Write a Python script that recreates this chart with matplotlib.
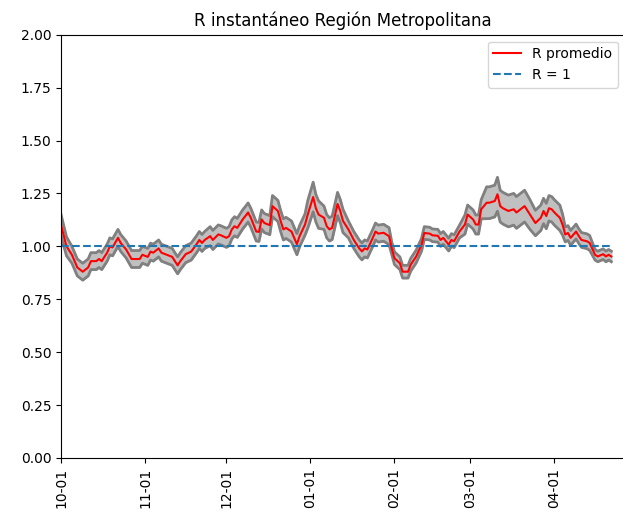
import numpy as np
import matplotlib
matplotlib.use("Agg")
import matplotlib.pyplot as plt
import matplotlib.dates as mdates

# dias desde 2020-10-01, R promedio y semi-ancho de la banda
dias = [0, 2, 4, 6, 8, 10, 11, 13, 14, 15, 17, 18, 19, 21, 22, 24, 26, 28, 29, 30, 32,
        33, 34, 36, 37, 39, 41, 43, 44, 46, 48, 50, 51, 52, 53, 55, 56, 58, 59, 61, 62, 63, 64, 65, 67, 68, 69,
        70, 72, 73, 74, 75, 77, 78, 80, 81, 82, 83, 85, 86, 87, 88, 90, 91, 93, 94, 95, 97, 98, 99, 100, 102, 103, 104,
        106, 108, 110, 111, 112, 113, 115, 116, 117, 119, 121, 122, 123, 125, 126, 128, 129, 131, 133, 134, 136, 137, 139,
        140, 141, 143, 144, 145, 147, 149, 150, 152, 153, 154, 155, 157, 158, 160, 161, 162, 163, 165, 167, 168, 170, 171, 173,
        175, 177, 178, 179, 180, 181, 182, 184, 185, 186, 187, 188, 190, 191, 192, 194, 195, 197, 198, 200, 201, 202, 203]

r_prom = [1.10, 1.00, 0.96, 0.90, 0.88, 0.90, 0.93, 0.93, 0.94, 0.93, 0.97, 1.00, 0.995, 1.04, 1.016, 0.985, 0.94, 0.94, 0.94, 0.96, 0.95,
          0.975, 0.97, 0.99, 0.97, 0.96, 0.95, 0.91, 0.93, 0.963, 0.975, 1.01, 1.03, 1.016, 1.03, 1.048, 1.03, 1.056, 1.052, 1.04, 1.048, 1.08, 1.095, 1.087, 1.127, 1.143, 1.16,
          1.135, 1.07, 1.068, 1.127, 1.11, 1.10, 1.19, 1.167, 1.12, 1.08, 1.087, 1.07, 1.04, 1.01, 1.048, 1.103, 1.15, 1.233, 1.18, 1.15, 1.135, 1.095, 1.08, 1.087, 1.20, 1.167, 1.12,
          1.08, 1.03, 0.99, 0.976, 0.99, 0.985, 1.04, 1.07, 1.06, 1.064, 1.048, 0.99, 0.944, 0.92, 0.88, 0.88, 0.913, 0.952, 1.008, 1.063, 1.06, 1.052, 1.05,
          1.03, 1.04, 1.008, 1.03, 1.024, 1.07, 1.103, 1.15, 1.127, 1.103, 1.103, 1.175, 1.206, 1.206, 1.214, 1.246, 1.19, 1.18, 1.167, 1.175, 1.16, 1.18, 1.19, 1.15,
          1.11, 1.135, 1.167, 1.143, 1.18, 1.175, 1.16, 1.135, 1.103, 1.056, 1.063, 1.04, 1.07, 1.048, 1.03, 1.024, 1.016, 0.96, 0.952, 0.963, 0.952, 0.96, 0.952]

ancho = [0.05, 0.045, 0.04, 0.04, 0.04, 0.04, 0.04, 0.04, 0.04, 0.04, 0.04, 0.04, 0.04, 0.04, 0.04, 0.04, 0.04, 0.04, 0.04, 0.04, 0.04,
         0.04, 0.04, 0.04, 0.04, 0.04, 0.04, 0.04, 0.04, 0.04, 0.04, 0.04, 0.04, 0.04, 0.04, 0.045, 0.045, 0.045, 0.045, 0.045, 0.045, 0.045, 0.045, 0.045, 0.045, 0.045, 0.045,
         0.045, 0.045, 0.045, 0.045, 0.045, 0.045, 0.05, 0.05, 0.05, 0.05, 0.05, 0.05, 0.05, 0.05, 0.05, 0.05, 0.065, 0.07, 0.065, 0.065, 0.055, 0.055, 0.055, 0.055, 0.055, 0.055, 0.055,
         0.04, 0.04, 0.04, 0.04, 0.04, 0.04, 0.04, 0.04, 0.04, 0.04, 0.04, 0.03, 0.03, 0.03, 0.03, 0.03, 0.03, 0.03, 0.03, 0.03, 0.03, 0.03, 0.03,
         0.03, 0.03, 0.03, 0.03, 0.03, 0.03, 0.045, 0.045, 0.045, 0.045, 0.045, 0.045, 0.075, 0.075, 0.075, 0.08, 0.075, 0.075, 0.075, 0.075, 0.075, 0.075, 0.075, 0.07,
         0.06, 0.06, 0.06, 0.06, 0.06, 0.06, 0.06, 0.06, 0.05, 0.035, 0.035, 0.035, 0.035, 0.035, 0.035, 0.035, 0.035, 0.025, 0.025, 0.025, 0.025, 0.025, 0.025]

meses = ["2020-10-01", "2020-11-01", "2020-12-01", "2021-01-01", "2021-02-01", "2021-03-01", "2021-04-01"]

inicio = np.datetime64("2020-10-01")
fechas = inicio + np.array(dias).astype("timedelta64[D]")
r = np.array(r_prom)
w = np.array(ancho)

fig = plt.figure(figsize=(6.23, 5.18), dpi=100)
ax = fig.add_axes([0.098, 0.116, 0.905, 0.817])

ax.fill_between(fechas, r - w, r + w, color="#c0c0c0")
ax.plot(fechas, r - w, color="gray", lw=2)
ax.plot(fechas, r + w, color="gray", lw=2)
ax.plot(fechas, r, color="red", lw=1.5, label="R promedio")
ax.plot([fechas[0], fechas[-1]], [1, 1], "--", color="#1f77b4", lw=1.5, label="R = 1")

ax.set_ylim(0, 2)
ax.set_yticks(np.arange(0, 2.01, 0.25))
ax.set_yticklabels(["%.2f" % v for v in np.arange(0, 2.01, 0.25)])
ax.set_xlim(inicio, inicio + np.timedelta64(208, "D"))
ax.set_xticks(np.array(meses, dtype="datetime64[D]"))
ax.xaxis.set_major_formatter(mdates.DateFormatter("%m-%d"))
plt.setp(ax.get_xticklabels(), rotation=90)

ax.set_title("R instantáneo Región Metropolitana")
ax.legend(loc="upper right")

fig.savefig("out.png", dpi=100)
